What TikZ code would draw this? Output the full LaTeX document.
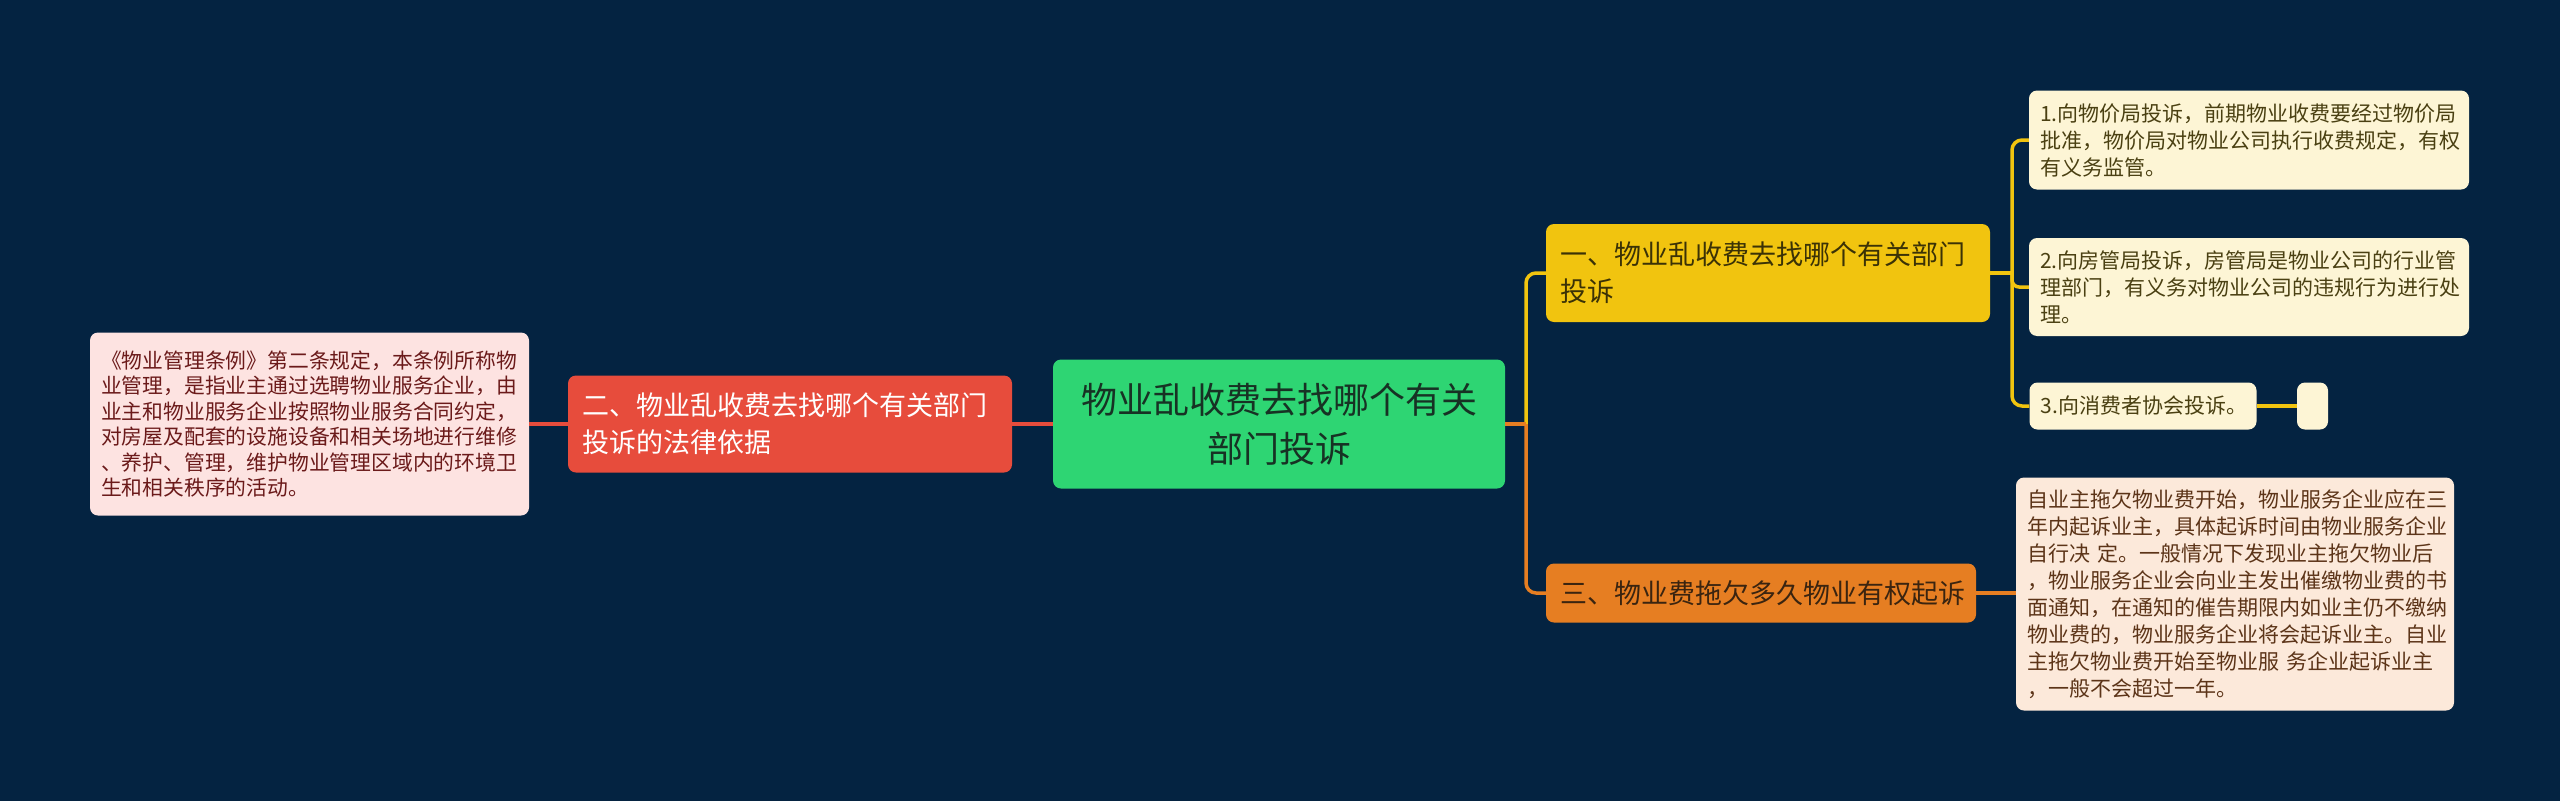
\documentclass[tikz,border=0pt]{standalone}
\usepackage{fontspec}
\setmainfont{Noto Sans CJK SC}
\definecolor{bg}{HTML}{042341}
\definecolor{cgreen}{HTML}{2ED573}
\definecolor{cred}{HTML}{E74C3C}
\definecolor{cyellow}{HTML}{F1C40F}
\definecolor{corange}{HTML}{E67E22}
\definecolor{lpink}{HTML}{FDE3E1}
\definecolor{lyellow}{HTML}{FDF5D5}
\definecolor{lorange}{HTML}{FCE9DA}
\definecolor{tgreen}{HTML}{173224}
\definecolor{tyellow}{HTML}{3B3206}
\definecolor{torange}{HTML}{3A2410}
\definecolor{tpink}{HTML}{6B1A1A}
\definecolor{tly}{HTML}{4A4012}
\definecolor{tlo}{HTML}{5C3418}
\tikzset{
  box/.style={rounded corners=8pt, inner ysep=0pt, anchor=center},
  rootbox/.style={box, fill=cgreen, text=tgreen, align=center,
    font=\fontsize{36}{49}\selectfont, minimum width=452pt, minimum height=129pt},
  mainbox/.style={box, inner xsep=14pt, align=left,
    font=\fontsize{27}{37}\selectfont, minimum height=#1},
  leafbox/.style={box, inner xsep=11pt, align=left,
    font=\fontsize{21}{27}\selectfont},
  conn/.style={line width=3.5pt},
}
\begin{document}
\begin{tikzpicture}[x=1pt,y=-1pt]
\useasboundingbox (0,0) rectangle (2560,801);
\fill[bg] (0,0) rectangle (2560,801);

% nodes
\node[rootbox] (root) at (1279,424) {物业乱收费去找哪个有关\\部门投诉};

\node[mainbox=97pt, fill=cred, text=white, text width=416pt] (red) at (790,424)
  {二、物业乱收费去找哪个有关部门\\投诉的法律依据};
\node[leafbox, fill=lpink, text=tpink, text width=417pt, minimum height=183pt,
  font=\fontsize{20.8}{25.5}\selectfont] (lleaf) at (309.5,424)
  {《物业管理条例》第二条规定，本条例所称物\\业管理，是指业主通过选聘物业服务企业，由\\业主和物业服务企业按照物业服务合同约定，\\对房屋及配套的设施设备和相关场地进行维修\\、养护、管理，维护物业管理区域内的环境卫\\生和相关秩序的活动。};

\node[mainbox=98pt, fill=cyellow, text=tyellow, text width=416pt] (yel) at (1768,273)
  {一、物业乱收费去找哪个有关部门\\投诉};
\node[mainbox=59pt, fill=corange, text=torange, text width=402pt] (ora) at (1761,593)
  {三、物业费拖欠多久物业有权起诉};

\node[leafbox, fill=lyellow, text=tly, text width=418pt, minimum height=99pt] (l1) at (2249,140)
  {1.向物价局投诉，前期物业收费要经过物价局\\批准，物价局对物业公司执行收费规定，有权\\有义务监管。};
\node[leafbox, fill=lyellow, text=tly, text width=418pt, minimum height=98pt] (l2) at (2249,287)
  {2.向房管局投诉，房管局是物业公司的行业管\\理部门，有义务对物业公司的违规行为进行处\\理。};
\node[leafbox, fill=lyellow, text=tly, text width=205pt, minimum height=47pt] (l3) at (2143,406)
  {3.向消费者协会投诉。};
\node[box, fill=lyellow, minimum width=31pt, minimum height=47pt, inner sep=0pt] (l3x) at (2312.5,406) {};

\node[leafbox, fill=lorange, text=tlo, text width=416pt, minimum height=233pt] (ol) at (2235,594)
  {自业主拖欠物业费开始，物业服务企业应在三\\年内起诉业主，具体起诉时间由物业服务企业\\自行决 定。一般情况下发现业主拖欠物业后\\，物业服务企业会向业主发出催缴物业费的书\\面通知，在通知的催告期限内如业主仍不缴纳\\物业费的，物业服务企业将会起诉业主。自业\\主拖欠物业费开始至物业服 务企业起诉业主\\，一般不会超过一年。};

% junctions
\coordinate (j1) at (1526,424);
\coordinate (j2) at (2012,273);

% connectors
\draw[conn, cred] (root.west) -- (red.east);
\draw[conn, cred] (red.west) -- (lleaf.east);

\draw[conn, cyellow] (root.east) -- (j1);
\draw[conn, cyellow, rounded corners=10pt] (j1) |- (yel.west);
\draw[conn, corange] (root.east) -- (j1);
\draw[conn, corange, rounded corners=10pt] (j1) |- (ora.west);

\draw[conn, cyellow] (yel.east) -- (j2);
\draw[conn, cyellow, rounded corners=10pt] (j2) |- (l1.west);
\draw[conn, cyellow, rounded corners=7pt] (j2) |- (l2.west);
\draw[conn, cyellow, rounded corners=10pt] (j2) |- (l3.west);
\draw[conn, cyellow] (l3.east) -- (l3x.west);

\draw[conn, corange] (ora.east) -- (ora.east -| ol.west);
\end{tikzpicture}
\end{document}
